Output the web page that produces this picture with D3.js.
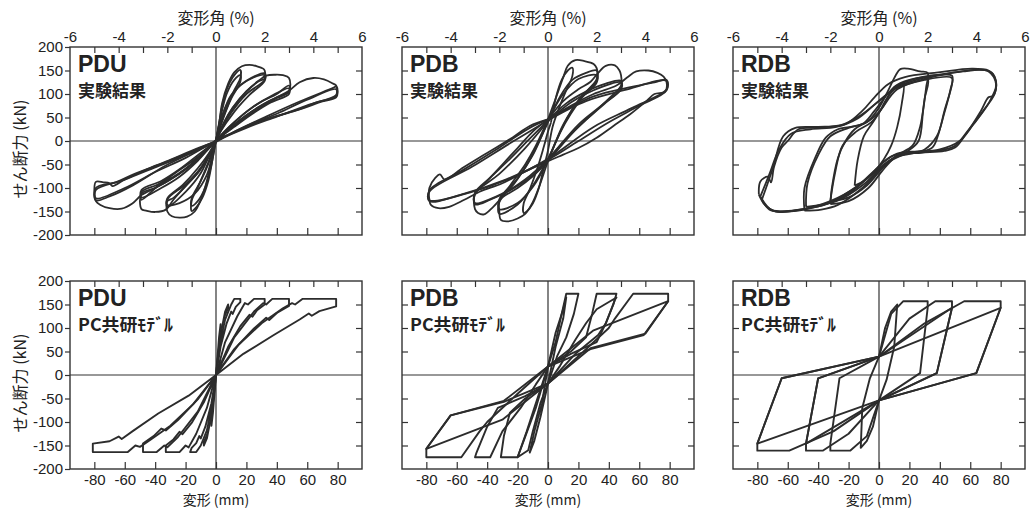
<!DOCTYPE html>
<html>
<head>
<meta charset="utf-8">
<script src="https://cdn.jsdelivr.net/npm/d3@7"></script>
<style>
body { margin: 0; background: #fff; }
svg text { fill: #222; }
</style>
</head>
<body>
<svg id="chart" width="1033" height="510"></svg>
<script>
// ---- labels / ticks ----
const specimens = ["PDU", "PDB", "RDB"];
const rowNotes = ["実験結果", "PC共研ﾓﾃﾞﾙ"];
const mmTicks = [-80, -60, -40, -20, 0, 20, 40, 60, 80];
const pctLabels = [-6, -4, -2, 0, 2, 4, 6];
const pctTicks = [-5, -4, -3, -2, -1, 1, 2, 3, 4, 5];
const kNLabels = [-200, -150, -100, -50, 0, 50, 100, 150, 200];
const kNInner = [-150, -100, -50, 50, 100, 150];

// ---- curves, [deformation mm, shear kN] ----
const pduTest = [
  [[0,0],[2,38],[5,88],[9,124],[13,144],[16,151],[16,134],[12,108],[8,78],[4,44],[1,12],[0,0],[-2,-34],[-5,-84],[-9,-121],[-13,-141],[-16,-149],[-16,-127],[-12,-99],[-8,-69],[-4,-37],[-1,-9],[0,0]],
  [[0,0],[3,50],[7,100],[12,130],[16,140],[16,126],[10,90],[5,50],[0,0],[-3,-50],[-7,-98],[-12,-128],[-16,-138],[-16,-122],[-10,-85],[-5,-48],[0,0]],
  [[0,0],[2,35],[4,80],[8,122],[12,146],[17,159],[22,162],[27,159],[31,154],[32,150],[32,133],[28,127],[20,105],[11,70],[5,37],[1,8],[-1,-10],[-3,-40],[-6,-85],[-10,-125],[-14,-150],[-19,-161],[-24,-163],[-29,-160],[-32,-150],[-32,-128],[-28,-121],[-20,-96],[-11,-63],[-4,-29],[0,0]],
  [[0,2],[4,52],[10,98],[20,128],[32,144],[32,130],[20,100],[10,60],[0,2],[-10,-68],[-20,-108],[-32,-140],[-32,-124],[-20,-92],[-10,-57],[0,2]],
  [[0,0],[6,70],[14,112],[24,134],[32,140],[32,128],[22,98],[12,62],[3,20],[0,0],[-6,-72],[-14,-112],[-24,-132],[-32,-136],[-32,-122],[-22,-94],[-12,-58],[-3,-18],[0,0]],
  [[0,0],[5,38],[11,71],[20,106],[28,128],[33,139],[39,141],[44,140],[48,134],[48,106],[40,93],[30,76],[20,55],[10,30],[3,8],[0,0],[-4,-30],[-11,-64],[-20,-96],[-28,-125],[-33,-146],[-40,-151],[-46,-148],[-49,-145],[-49,-112],[-40,-100],[-30,-82],[-20,-60],[-10,-33],[-3,-10],[0,0]],
  [[0,2],[10,34],[20,62],[30,84],[40,100],[48,118],[48,104],[38,88],[25,62],[12,32],[0,2],[-12,-38],[-25,-70],[-38,-95],[-49,-125],[-49,-108],[-38,-92],[-25,-64],[-12,-34],[0,2]],
  [[0,0],[12,40],[24,72],[36,95],[48,112],[48,100],[36,82],[24,58],[12,30],[0,0],[-12,-42],[-24,-76],[-36,-100],[-49,-120],[-49,-104],[-36,-85],[-24,-60],[-12,-30],[0,0]],
  [[0,0],[10,30],[20,55],[30,76],[40,93],[48,107],[55,125],[64,134],[71,131],[77,122],[79,118],[80,103],[79,93],[70,84],[55,67],[40,53],[25,37],[11,17],[0,2],[-10,-33],[-20,-60],[-30,-82],[-40,-100],[-49,-115],[-55,-133],[-62,-144],[-70,-143],[-76,-136],[-79,-128],[-80,-105],[-79,-87],[-74,-88],[-70,-90],[-68,-96],[-60,-82],[-45,-60],[-33,-45],[-20,-28],[-10,-14],[0,0]],
  [[0,-2],[11,18],[33,52],[55,84],[77,113],[79,116],[79,96],[66,82],[55,68],[33,46],[11,17],[0,-2],[-11,-18],[-33,-52],[-55,-95],[-70,-118],[-79,-126],[-79,-100],[-66,-88],[-55,-72],[-33,-44],[-11,-14],[0,-2]],
  [[0,0],[20,32],[40,58],[60,88],[79,110],[79,98],[60,76],[40,52],[20,28],[0,0],[-20,-36],[-40,-66],[-60,-100],[-79,-122],[-79,-104],[-60,-82],[-40,-56],[-20,-30],[0,0]]
];

const pdbTest = [
  [[2,40],[5,90],[9,130],[13,150],[16,156],[16,138],[12,108],[7,68],[3,30],[0,-20],[-3,-60],[-6,-100],[-10,-133],[-14,-150],[-16,-153],[-16,-133],[-12,-103],[-7,-58],[-3,-15],[0,20],[2,40]],
  [[0,46],[5,90],[10,135],[13,160],[18,172],[24,170],[30,164],[32,155],[32,132],[25,104],[15,58],[8,18],[0,-43],[-5,-90],[-10,-130],[-15,-155],[-20,-165],[-26,-171],[-31,-168],[-32,-150],[-32,-128],[-25,-95],[-15,-50],[-8,-10],[0,46]],
  [[0,40],[8,95],[16,130],[25,145],[32,150],[32,128],[22,95],[12,45],[0,-38],[-10,-95],[-20,-135],[-32,-155],[-32,-130],[-22,-90],[-12,-40],[0,40]],
  [[0,44],[10,100],[20,132],[32,140],[32,124],[20,85],[10,35],[0,-40],[-10,-98],[-20,-132],[-32,-145],[-32,-124],[-20,-80],[-10,-30],[0,44]],
  [[0,46],[10,85],[20,110],[28,126],[33,145],[38,160],[44,161],[47,150],[48,140],[48,118],[40,90],[30,60],[20,30],[10,-5],[0,-43],[-10,-75],[-20,-100],[-30,-120],[-36,-140],[-42,-156],[-46,-153],[-48,-145],[-48,-113],[-40,-85],[-30,-50],[-20,-15],[-10,20],[0,46]],
  [[0,44],[12,80],[25,105],[38,122],[48,128],[48,112],[38,82],[25,45],[12,5],[0,-40],[-12,-78],[-25,-105],[-38,-125],[-48,-135],[-48,-110],[-38,-78],[-25,-38],[-12,5],[0,44]],
  [[0,42],[15,82],[30,108],[48,125],[48,110],[35,75],[20,35],[0,-38],[-15,-82],[-30,-112],[-48,-132],[-48,-112],[-32,-70],[-15,-15],[0,42]],
  [[0,46],[15,75],[30,100],[45,118],[52,135],[58,148],[66,150],[72,145],[76,137],[78,125],[77,105],[70,100],[65,86],[54,57],[43,32],[32,7],[20,-15],[10,-29],[0,-43],[-15,-65],[-30,-90],[-45,-108],[-55,-125],[-65,-140],[-72,-143],[-77,-136],[-78,-125],[-78,-100],[-74,-78],[-71,-71],[-68,-82],[-56,-57],[-45,-35],[-34,-14],[-23,8],[-12,32],[0,46]],
  [[0,46],[30,95],[55,115],[70,125],[78,130],[78,108],[60,75],[40,40],[20,0],[0,-40],[-30,-85],[-55,-112],[-78,-128],[-78,-105],[-56,-62],[-34,-18],[-12,28],[0,46]],
  [[0,44],[25,85],[50,108],[78,128],[78,110],[55,70],[30,30],[0,-38],[-25,-80],[-50,-108],[-78,-126],[-78,-108],[-50,-55],[-25,-5],[0,44]]
];

const rdbTest = [
  [[-16,-95],[-14,-40],[-10,10],[-5,35],[0,60],[5,90],[10,110],[16,122],[15,80],[12,30],[8,-10],[3,-40],[-3,-65],[-10,-85],[-16,-95]],
  [[-32,-134],[-31,-100],[-27,-36],[-22,0],[-16,25],[-7,43],[0,71],[6,107],[11,140],[14,153],[19,154],[27,148],[32,145],[31,114],[29,64],[26,0],[19,-21],[10,-36],[2,-64],[-7,-100],[-20,-128],[-32,-134]],
  [[-32,-128],[-29,-70],[-24,-10],[-15,20],[-5,40],[3,75],[10,115],[20,130],[32,133],[30,90],[27,30],[22,-10],[12,-30],[3,-55],[-8,-95],[-20,-120],[-32,-128]],
  [[-49,-148],[-49,-100],[-42,-36],[-35,7],[-27,25],[-11,36],[-3,64],[10,114],[28,136],[41,141],[48,139],[48,121],[43,64],[39,14],[35,-14],[24,-25],[10,-36],[2,-57],[-11,-100],[-27,-136],[-38,-146],[-49,-148]],
  [[-48,-140],[-47,-90],[-40,-30],[-32,10],[-20,28],[-8,40],[0,62],[12,110],[30,130],[48,134],[47,110],[43,60],[38,10],[30,-18],[15,-30],[3,-52],[-10,-92],[-28,-128],[-48,-140]],
  [[-79,-114],[-78,-86],[-73,-76],[-71,-88],[-69,-55],[-64,-14],[-60,0],[-53,25],[-38,29],[-22,36],[-11,64],[-3,93],[6,121],[17,136],[39,146],[61,154],[72,150],[76,136],[77,114],[75,96],[72,93],[67,64],[57,14],[50,-14],[43,-21],[28,-25],[15,-29],[6,-43],[-5,-72],[-16,-100],[-33,-132],[-49,-146],[-60,-150],[-68,-150],[-75,-136],[-79,-114]],
  [[-77,-125],[-70,-60],[-63,10],[-55,28],[-40,30],[-25,34],[-12,55],[0,85],[12,115],[30,135],[50,146],[65,152],[74,146],[77,125],[76,100],[68,62],[58,20],[50,-10],[40,-20],[25,-22],[12,-27],[3,-45],[-8,-80],[-20,-112],[-35,-135],[-50,-145],[-62,-149],[-72,-146],[-77,-125]],
  [[-78,-118],[-72,-70],[-66,-20],[-58,15],[-45,25],[-28,30],[-14,48],[-2,80],[10,110],[30,132],[55,148],[72,148],[77,120],[72,80],[62,35],[53,0],[40,-18],[20,-25],[8,-33],[-2,-60],[-15,-98],[-32,-128],[-52,-146],[-70,-148],[-78,-118]]
];

const pduModel = [
  [[0,0],[1,40],[2,75],[3,100],[3,108],[2,80],[1,38],[0,0],[-1,-40],[-2,-75],[-3,-100],[-3,-108],[-2,-80],[-1,-38],[0,0]],
  [[0,0],[2,60],[4,105],[6,128],[8,142],[8,150],[6,135],[3,85],[0,0],[-2,-60],[-4,-105],[-6,-128],[-8,-142],[-8,-150],[-6,-135],[-3,-85],[0,0]],
  [[0,0],[3,60],[7,110],[10,135],[11,130],[13,145],[16,155],[16,162],[12,162],[10,150],[6,118],[2,58],[0,0],[-3,-60],[-7,-110],[-10,-135],[-11,-130],[-13,-145],[-16,-155],[-17,-164],[-13,-164],[-10,-150],[-6,-118],[-2,-58],[0,0]],
  [[0,0],[8,60],[16,104],[22,128],[24,124],[27,138],[32,150],[32,162],[25,162],[21,150],[19,153],[14,125],[6,70],[0,0],[-8,-58],[-16,-102],[-22,-126],[-24,-121],[-28,-137],[-33,-150],[-33,-164],[-24,-164],[-20,-150],[-18,-154],[-13,-125],[-6,-70],[0,0]],
  [[0,0],[12,55],[25,99],[33,122],[35,117],[40,132],[48,147],[48,162],[37,162],[33,150],[31,153],[25,135],[12,80],[0,0],[-12,-52],[-25,-96],[-33,-118],[-36,-114],[-41,-130],[-48,-146],[-48,-164],[-39,-164],[-34,-150],[-32,-154],[-25,-132],[-12,-78],[0,0]],
  [[0,0],[18,45],[38,85],[55,118],[61,131],[63,126],[68,136],[79,146],[79,162],[57,162],[52,150],[50,153],[44,142],[30,110],[15,65],[0,0],[-18,-44],[-38,-82],[-55,-120],[-62,-136],[-64,-131],[-70,-141],[-81,-146],[-81,-164],[-58,-164],[-53,-150],[-50,-153],[-44,-140],[-30,-108],[-15,-62],[0,0]]
];

const pdbModel = [
  [[0,18],[5,70],[9,130],[12,173],[20,173],[17,130],[12,80],[6,40],[0,-18],[-5,-60],[-10,-120],[-13,-160],[-20,-175],[-16,-140],[-8,-70],[0,18]],
  [[0,18],[5,90],[10,140],[12,165],[10,120],[5,60],[0,-18],[-5,-90],[-9,-140],[-12,-165],[-9,-120],[-4,-60],[0,18]],
  [[0,18],[15,50],[25,80],[29,130],[32,173],[45,173],[43,150],[38,110],[33,85],[18,45],[0,-18],[-15,-50],[-25,-80],[-29,-130],[-31,-175],[-20,-175],[-14,-120],[-8,-60],[0,18]],
  [[0,18],[15,45],[32,70],[38,110],[44,160],[45,165],[32,140],[25,110],[18,75],[8,20],[0,-18],[-15,-45],[-33,-70],[-40,-110],[-47,-165],[-48,-175],[-38,-175],[-30,-120],[-18,-70],[-8,-20],[0,18]],
  [[0,18],[28,55],[63,85],[79,157],[79,173],[56,173],[44,120],[40,100],[20,40],[0,-18],[-29,-57],[-64,-86],[-80,-157],[-80,-175],[-57,-175],[-45,-120],[-40,-100],[-20,-40],[0,18]],
  [[0,18],[30,95],[79,157],[64,88],[28,57],[0,-18],[-30,-95],[-80,-157],[-64,-86],[-29,-55],[0,18]]
];

const rdbModel = [
  [[0,39],[4,100],[8,135],[12,150],[10,60],[5,-10],[0,-54],[-4,-110],[-8,-140],[-12,-155],[-11,-70],[-6,-7],[0,39]],
  [[0,39],[8,130],[16,157],[32,157],[32,143],[27,4],[0,-54],[-8,-130],[-19,-161],[-32,-161],[-32,-146],[-26,-7],[0,39]],
  [[0,39],[20,120],[37,157],[48,157],[48,143],[38,4],[0,-54],[-20,-125],[-37,-161],[-48,-161],[-48,-146],[-40,-7],[0,39]],
  [[0,39],[30,110],[56,157],[80,157],[80,143],[64,4],[0,-54],[-30,-120],[-59,-161],[-80,-161],[-80,-146],[-64,-7],[0,39]],
  [[0,39],[48,143],[38,4],[0,-54],[-48,-146],[-40,-7],[0,39]],
  [[0,39],[80,143],[64,4],[0,-54],[-80,-146],[-64,-7],[0,39]]
];

const testCurves = [pduTest, pdbTest, rdbTest];
const modelCurves = [pduModel, pdbModel, rdbModel];

// ---- layout ----
var colX = [70, 402, 733];
var rowY = [47, 281];
var pw = 292, ph = 188;
var latin = "'Liberation Sans', Arial, sans-serif";
var cjk = "'Noto Sans CJK JP', 'Noto Sans', sans-serif";
var ink = "#2c2c2c";

var svg = d3.select("#chart");

function noDomain(g) { g.select(".domain").remove(); }

for (var r = 0; r < 2; r++) {
    for (var c = 0; c < 3; c++) {
        var x = d3.scaleLinear().domain([-96, 96]).range([colX[c], colX[c] + pw]);
        var xp = d3.scaleLinear().domain([-6, 6]).range([colX[c], colX[c] + pw]);
        var y = d3.scaleLinear().domain([-200, 200]).range([rowY[r] + ph, rowY[r]]);
        var g = svg.append("g");
        var clipId = "clip" + r + c;

        g.append("clipPath").attr("id", clipId)
            .append("rect")
            .attr("x", x(-96)).attr("y", y(200))
            .attr("width", pw).attr("height", ph);

        // zero lines
        g.append("line")
            .attr("x1", x(-96)).attr("x2", x(96))
            .attr("y1", y(0)).attr("y2", y(0))
            .attr("stroke", "#333").attr("stroke-width", 1.2);
        g.append("line")
            .attr("x1", x(0)).attr("x2", x(0))
            .attr("y1", y(200)).attr("y2", y(-200))
            .attr("stroke", "#333").attr("stroke-width", 1.2);

        // hysteresis curves
        var curves = r == 0 ? testCurves[c] : modelCurves[c];
        var line = d3.line()
            .x(function (d) { return x(d[0]); })
            .y(function (d) { return y(d[1]); })
            .curve(r == 0 ? d3.curveCatmullRom.alpha(0.5) : d3.curveLinear);
        g.append("g").attr("clip-path", "url(#" + clipId + ")")
            .selectAll("path").data(curves)
            .enter().append("path")
            .attr("d", line)
            .attr("fill", "none")
            .attr("stroke", ink)
            .attr("stroke-width", r == 0 ? 1.8 : 1.9)
            .attr("stroke-linejoin", "round");

        // frame
        g.append("rect")
            .attr("x", x(-96)).attr("y", y(200))
            .attr("width", pw).attr("height", ph)
            .attr("fill", "none").attr("stroke", "#333").attr("stroke-width", 1.4);

        // top edge: drift angle ticks (inside)
        g.append("g").attr("transform", "translate(0," + y(200) + ")")
            .call(d3.axisBottom(xp).tickValues(pctTicks).tickSize(6).tickFormat(""))
            .call(noDomain);
        // bottom edge: deformation ticks (inside)
        g.append("g").attr("transform", "translate(0," + y(-200) + ")")
            .call(d3.axisTop(x).tickValues(mmTicks).tickSize(7).tickFormat(""))
            .call(noDomain);
        // right edge ticks (inside)
        g.append("g").attr("transform", "translate(" + x(96) + ",0)")
            .call(d3.axisLeft(y).tickValues(kNInner).tickSize(6).tickFormat(""))
            .call(noDomain);

        if (c == 0) {
            g.append("g").attr("transform", "translate(" + x(-96) + ",0)")
                .call(d3.axisLeft(y).tickValues(kNLabels).tickSize(5).tickPadding(2)
                    .tickFormat(function (d) { return String(d); }))
                .call(noDomain)
                .selectAll("text").attr("font-size", 15).attr("font-family", latin).attr("fill", "#222");
        } else {
            g.append("g").attr("transform", "translate(" + x(-96) + ",0)")
                .call(d3.axisRight(y).tickValues(kNInner).tickSize(6).tickFormat(""))
                .call(noDomain);
        }

        if (r == 0) {
            g.append("g").attr("transform", "translate(0," + y(200) + ")")
                .call(d3.axisTop(xp).tickValues(pctLabels).tickSize(0).tickPadding(5)
                    .tickFormat(function (d) { return String(d); }))
                .call(noDomain)
                .selectAll("text").attr("font-size", 15).attr("font-family", latin).attr("fill", "#222");
            g.append("text")
                .attr("x", x(0)).attr("y", 24)
                .attr("text-anchor", "middle")
                .attr("font-family", cjk).attr("font-size", 16)
                .text("変形角 (%)");
        } else {
            g.append("g").attr("transform", "translate(0," + y(-200) + ")")
                .call(d3.axisBottom(x).tickValues(mmTicks).tickSize(0).tickPadding(5)
                    .tickFormat(function (d) { return String(d); }))
                .call(noDomain)
                .selectAll("text").attr("font-size", 15).attr("font-family", latin).attr("fill", "#222");
            g.append("text")
                .attr("x", x(0)).attr("y", 505)
                .attr("text-anchor", "middle")
                .attr("font-family", cjk).attr("font-size", 14)
                .text("変形 (mm)");
        }

        g.selectAll(".tick line").attr("stroke", "#333").attr("stroke-width", 1.2);

        // panel captions
        g.append("text")
            .attr("x", x(-96) + 8).attr("y", y(200) + 25)
            .attr("font-family", latin).attr("font-weight", "bold").attr("font-size", 23)
            .text(specimens[c]);
        var note = g.append("text")
            .attr("x", x(-96) + 8).attr("y", y(200) + 50)
            .attr("font-family", cjk).attr("font-weight", "bold").attr("font-size", 17)
            .text(rowNotes[r]);
        if (r == 1) note.attr("textLength", 95).attr("lengthAdjust", "spacingAndGlyphs");

        if (c == 0) {
            var cy = rowY[r] + ph / 2 + 8;
            g.append("text")
                .attr("transform", "translate(19," + cy + ") rotate(-90)")
                .attr("text-anchor", "middle")
                .attr("dominant-baseline", "central")
                .attr("font-family", cjk).attr("font-size", 16)
                .text("せん断力 (kN)");
        }
    }
}
</script>
</body>
</html>
